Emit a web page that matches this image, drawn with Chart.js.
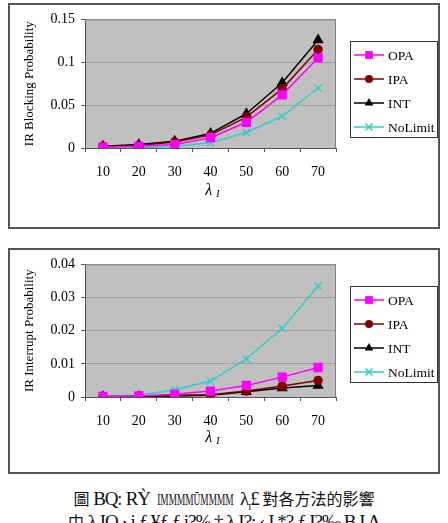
<!DOCTYPE html>
<html>
<head>
<meta charset="utf-8">
<script src="https://cdn.jsdelivr.net/npm/chart.js@4/dist/chart.umd.min.js"></script>
<style>
    body { margin: 0; background: #fff; width: 448px; height: 523px; overflow: hidden; position: relative; }
    .box { position: absolute; left: 8px; width: 432px; height: 226px; border: 2px solid #555; box-sizing: border-box; background: #fff; }
    #box1 { top: 3px; }
    #box2 { top: 248px; }
    .box canvas { display: block; }
    .cap { position: absolute; left: 0; width: 448px; text-align: center; white-space: nowrap;
           font-family: 'Noto Sans CJK TC', sans-serif; font-size: 16px; line-height: 20px; color: #111; }
    .cap .latin { font-family: 'Liberation Serif', serif; font-size: 19px; letter-spacing: -1px; }
    .cap .narrow { display: inline-block; font-family: 'Liberation Serif', serif; font-size: 17px; transform: scaleX(0.55); margin: 0 -28px; }
</style>
</head>
<body>
<div class="box" id="box1"><canvas id="blocking-chart" width="428" height="222"></canvas></div>
<div class="box" id="box2"><canvas id="interrupt-chart" width="428" height="222"></canvas></div>
<div class="cap" style="top:488px;">圖 <span class="latin">BQ</span>: <span class="latin">RỲ</span> <span class="narrow">IMMMMŪMMMM</span> <span class="latin">λ<sub style="font-size:9px">I</sub>£</span> 對各方法的影響</div>
<div class="cap" style="top:511px;">中 <span class="latin">λ IQ · i ƒ ¥ƒ ƒ i?% ‡ λ I?: ‹ I *? ƒ I?‰ B I A</span></div>

<script>
var lambdas = ['10', '20', '30', '40', '50', '60', '70'];
var seriesNames = ['OPA', 'IPA', 'INT', 'NoLimit'];

// IR blocking probability
var blockOPA = [0.001, 0.002, 0.004, 0.012, 0.030, 0.062, 0.105];
var blockIPA = [0.002, 0.003, 0.007, 0.015, 0.036, 0.069, 0.115];
var blockINT = [0.002, 0.004, 0.008, 0.017, 0.040, 0.076, 0.126];
var blockNoLimit = [0.000, 0.000, 0.002, 0.006, 0.018, 0.037, 0.070];
var blockTicks = [0, 0.05, 0.1, 0.15];

// IR interrupt probability
var intOPA = [0.0002, 0.0003, 0.0008, 0.0018, 0.0035, 0.0060, 0.0089];
var intIPA = [0.0001, 0.0002, 0.0005, 0.0007, 0.0018, 0.0033, 0.0050];
var intINT = [0.0001, 0.0001, 0.0003, 0.0005, 0.0016, 0.0027, 0.0035];
var intNoLimit = [0.0003, 0.0005, 0.0022, 0.0048, 0.0115, 0.0207, 0.0335];
var interruptTicks = [0, 0.01, 0.02, 0.03, 0.04];

var colors = ['#FF00FF', '#800000', '#000000', '#33CCCC'];
var markers = ['rect', 'circle', 'triangle', 'crossRot'];
var radii = [5.5, 4, 5, 5];

var serif = '"Liberation Serif", "Times New Roman", serif';

function drawMarker(ctx, style, x, y, r, color) {
    var s, a;
    ctx.save();
    ctx.fillStyle = color;
    ctx.strokeStyle = color;
    ctx.lineWidth = 1.5;
    ctx.beginPath();
    if (style === 'rect') {
        s = Math.SQRT1_2 * r;
        ctx.rect(x - s, y - s, 2 * s, 2 * s);
        ctx.fill();
    } else if (style === 'circle') {
        ctx.arc(x, y, r, 0, Math.PI * 2);
        ctx.fill();
    } else if (style === 'triangle') {
        a = 0;
        ctx.moveTo(x + Math.sin(a) * r, y - Math.cos(a) * r);
        a += Math.PI * 2 / 3;
        ctx.lineTo(x + Math.sin(a) * r, y - Math.cos(a) * r);
        a += Math.PI * 2 / 3;
        ctx.lineTo(x + Math.sin(a) * r, y - Math.cos(a) * r);
        ctx.closePath();
        ctx.fill();
    } else {
        s = Math.SQRT1_2 * r;
        ctx.moveTo(x - s, y - s);
        ctx.lineTo(x + s, y + s);
        ctx.moveTo(x - s, y + s);
        ctx.lineTo(x + s, y - s);
        ctx.stroke();
    }
    ctx.restore();
}

// grey plot area, frame, legend box and the lambda_I axis title
var excelLook = {
    id: 'excelLook',
    beforeDraw: function(chart) {
        var a = chart.chartArea;
        var ctx = chart.ctx;
        ctx.save();
        ctx.fillStyle = '#C0C0C0';
        ctx.fillRect(a.left, a.top, a.right - a.left, a.bottom - a.top);
        ctx.restore();
    },
    beforeDatasetsDraw: function(chart) {
        var a = chart.chartArea;
        var ctx = chart.ctx;
        ctx.save();
        ctx.strokeStyle = '#808080';
        ctx.lineWidth = 1;
        ctx.beginPath();
        ctx.moveTo(a.left, a.top + 0.5);
        ctx.lineTo(a.right - 0.5, a.top + 0.5);
        ctx.lineTo(a.right - 0.5, a.bottom);
        ctx.stroke();
        ctx.restore();
    },
    afterDraw: function(chart, args, opts) {
        var ctx = chart.ctx;
        var a = chart.chartArea;
        var lg = opts.legend;
        var cx, wL, wI, x0;
        ctx.save();
        // legend
        ctx.fillStyle = '#fff';
        ctx.fillRect(lg.x, lg.y, lg.w, lg.h);
        ctx.strokeStyle = '#333';
        ctx.lineWidth = 1;
        ctx.strokeRect(lg.x + 0.5, lg.y + 0.5, lg.w - 1, lg.h - 1);
        chart.data.datasets.forEach(function(ds, i) {
            var y = lg.y + lg.first + i * lg.step;
            ctx.strokeStyle = ds.borderColor;
            ctx.lineWidth = 1.5;
            ctx.beginPath();
            ctx.moveTo(lg.x + 4, y);
            ctx.lineTo(lg.x + 34, y);
            ctx.stroke();
            drawMarker(ctx, ds.pointStyle, lg.x + 19, y, ds.pointRadius, ds.borderColor);
            ctx.fillStyle = '#000';
            ctx.font = '13.5px ' + serif;
            ctx.textBaseline = 'middle';
            ctx.textAlign = 'left';
            ctx.fillText(ds.label, lg.x + 38, y + 1);
        });
        // x axis title
        cx = (a.left + a.right) / 2 + 2;
        ctx.fillStyle = '#000';
        ctx.textBaseline = 'alphabetic';
        ctx.font = 'italic 16px ' + serif;
        wL = ctx.measureText('λ').width;
        ctx.font = 'italic 10px ' + serif;
        wI = ctx.measureText('I').width;
        x0 = cx - (wL + 4 + wI) / 2;
        ctx.font = 'italic 16px ' + serif;
        ctx.fillText('λ', x0, opts.titleY + 5);
        ctx.font = 'italic 10px ' + serif;
        ctx.fillText('I', x0 + wL + 4, opts.titleY + 7);
        ctx.restore();
    }
};

function makeChart(canvasId, yTitle, ticks, data, xHeight, topPad, titleY) {
    var datasets = seriesNames.map(function(name, i) {
        return {
            label: name,
            data: data[i],
            borderColor: colors[i],
            backgroundColor: colors[i],
            borderWidth: 1.5,
            pointStyle: markers[i],
            pointRadius: radii[i],
            pointBorderWidth: 1.5,
            tension: 0
        };
    });
    return new Chart(document.getElementById(canvasId), {
        type: 'line',
        data: { labels: lambdas, datasets: datasets },
        plugins: [excelLook],
        options: {
            responsive: false,
            animation: false,
            layout: { padding: { left: 0, right: 102, top: topPad, bottom: 0 } },
            plugins: {
                legend: { display: false },
                tooltip: { enabled: false },
                excelLook: {
                    titleY: titleY,
                    legend: { x: 340, y: 36, w: 88, h: 97, first: 14, step: 24 }
                }
            },
            scales: {
                x: {
                    type: 'category',
                    offset: true,
                    afterFit: function(scale) { scale.height = xHeight; },
                    grid: { display: true, offset: true, drawOnChartArea: false, drawTicks: true,
                            tickLength: 4, color: '#555' },
                    border: { color: '#555', width: 1 },
                    ticks: { color: '#000', padding: 12, font: { family: serif, size: 14 } }
                },
                y: {
                    min: ticks[0],
                    max: ticks[ticks.length - 1],
                    afterFit: function(scale) { scale.width = 75; },
                    afterBuildTicks: function(scale) {
                        scale.ticks = ticks.map(function(v) { return { value: v }; });
                    },
                    grid: { color: '#A0A0A0', tickColor: '#555', tickLength: 4, lineWidth: 1 },
                    border: { color: '#555', width: 1 },
                    ticks: {
                        color: '#000', padding: 6, font: { family: serif, size: 14 },
                        callback: function(v) { return String(v); }
                    },
                    title: { display: true, text: yTitle, color: '#000', padding: { top: 12, bottom: 0 },
                             font: { family: serif, size: 13 } }
                }
            }
        }
    });
}

makeChart('blocking-chart', 'IR Blocking Probability', blockTicks,
    [blockOPA, blockIPA, blockINT, blockNoLimit], 79, 13, 185);
makeChart('interrupt-chart', 'IR Interrupt Probability', interruptTicks,
    [intOPA, intIPA, intINT, intNoLimit], 75, 14, 187);
</script>
</body>
</html>
